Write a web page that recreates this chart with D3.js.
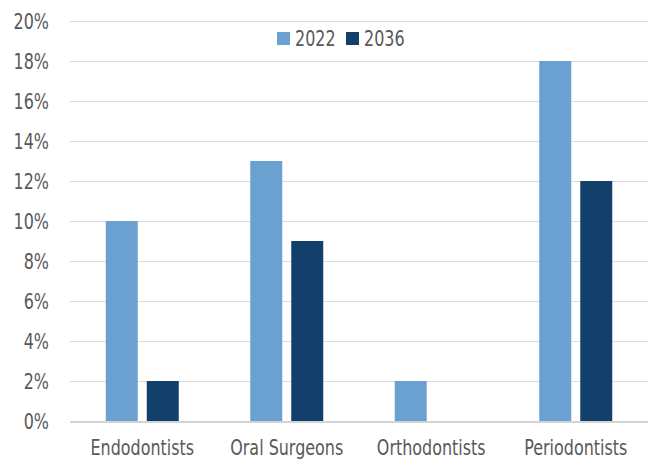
<!DOCTYPE html>
<html>
<head>
<meta charset="utf-8">
<script src="https://cdn.jsdelivr.net/npm/d3@7"></script>
<style>
  body { margin: 0; background: #fff; }
  text { font-family: "DejaVu Sans", sans-serif; fill: #595959; }
</style>
</head>
<body>
<div id="chart"></div>
<script>
// chart values
var categories = ["Endodontists", "Oral Surgeons", "Orthodontists", "Periodontists"];
var seriesNames = ["2022", "2036"];
var values2022 = [0.10, 0.13, 0.02, 0.18];
var values2036 = [0.02, 0.09, 0, 0.12];
var yTicks = [0, 0.02, 0.04, 0.06, 0.08, 0.10, 0.12, 0.14, 0.16, 0.18, 0.20];
var colors = ["#6aa1d0", "#133f6b"];

var width = 652, height = 459;
var plotLeft = 70, plotRight = 648, plotTop = 21, plotBottom = 421;
var squeeze = "scale(0.76,1)";   // narrow look of the original font

var svg = d3.select("#chart").append("svg")
    .attr("width", width)
    .attr("height", height);

var x = d3.scaleBand()
    .domain(categories)
    .range([plotLeft, plotRight]);

var xInner = d3.scaleBand()
    .domain(seriesNames)
    .range([0, 73])
    .paddingInner(0.22);

var y = d3.scaleLinear()
    .domain([0, 0.20])
    .range([plotBottom, plotTop]);

// gridlines
svg.append("g")
    .selectAll("line")
    .data(yTicks.slice(1))
    .enter().append("line")
    .attr("x1", plotLeft)
    .attr("x2", plotRight)
    .attr("y1", function(d) { return Math.round(y(d)) + 0.5; })
    .attr("y2", function(d) { return Math.round(y(d)) + 0.5; })
    .attr("stroke", "#dcdcdc")
    .attr("stroke-width", 1);

// y axis labels
var yAxis = svg.append("g")
    .attr("transform", "translate(" + (plotLeft - 21) + ",0)")
    .call(d3.axisLeft(y).tickValues(yTicks).tickFormat(d3.format(".0%")).tickSize(0).tickPadding(0));
yAxis.select(".domain").remove();
yAxis.selectAll("text")
    .style("font-size", "21px")
    .attr("dy", "0.36em")
    .attr("transform", squeeze);

// bars
var rows = categories.map(function(c, i) {
    return { cat: c, vals: [values2022[i], values2036[i]] };
});

var groups = svg.append("g")
    .selectAll("g")
    .data(rows)
    .enter().append("g")
    .attr("transform", function(d) { return "translate(" + (x(d.cat) + x.bandwidth() / 2 - 36.5) + ",0)"; });

groups.selectAll("rect")
    .data(function(d) { return d.vals.map(function(v, j) { return { s: seriesNames[j], v: v, j: j }; }); })
    .enter().append("rect")
    .attr("x", function(d) { return xInner(d.s); })
    .attr("y", function(d) { return y(d.v); })
    .attr("width", xInner.bandwidth())
    .attr("height", function(d) { return plotBottom - y(d.v); })
    .attr("fill", function(d) { return colors[d.j]; });

// baseline
svg.append("line")
    .attr("x1", plotLeft)
    .attr("x2", plotRight)
    .attr("y1", plotBottom + 1)
    .attr("y2", plotBottom + 1)
    .attr("stroke", "#d4d4d4")
    .attr("stroke-width", 2);

// x axis labels
var xAxis = svg.append("g")
    .attr("transform", "translate(0," + plotBottom + ")")
    .call(d3.axisBottom(x).tickSize(0).tickPadding(0));
xAxis.select(".domain").remove();
xAxis.selectAll("text")
    .style("font-size", "21px")
    .attr("y", 34)
    .attr("dy", 0)
    .attr("transform", squeeze);

// legend
var legend = svg.append("g")
    .selectAll("g")
    .data(seriesNames)
    .enter().append("g")
    .attr("transform", function(d, i) { return "translate(" + (277 + i * 69) + ",32)"; });

legend.append("rect")
    .attr("width", 13)
    .attr("height", 13)
    .attr("fill", function(d, i) { return colors[i]; });

legend.append("text")
    .attr("transform", "translate(18,14) " + squeeze)
    .style("font-size", "21px")
    .text(function(d) { return d; });
</script>
</body>
</html>
